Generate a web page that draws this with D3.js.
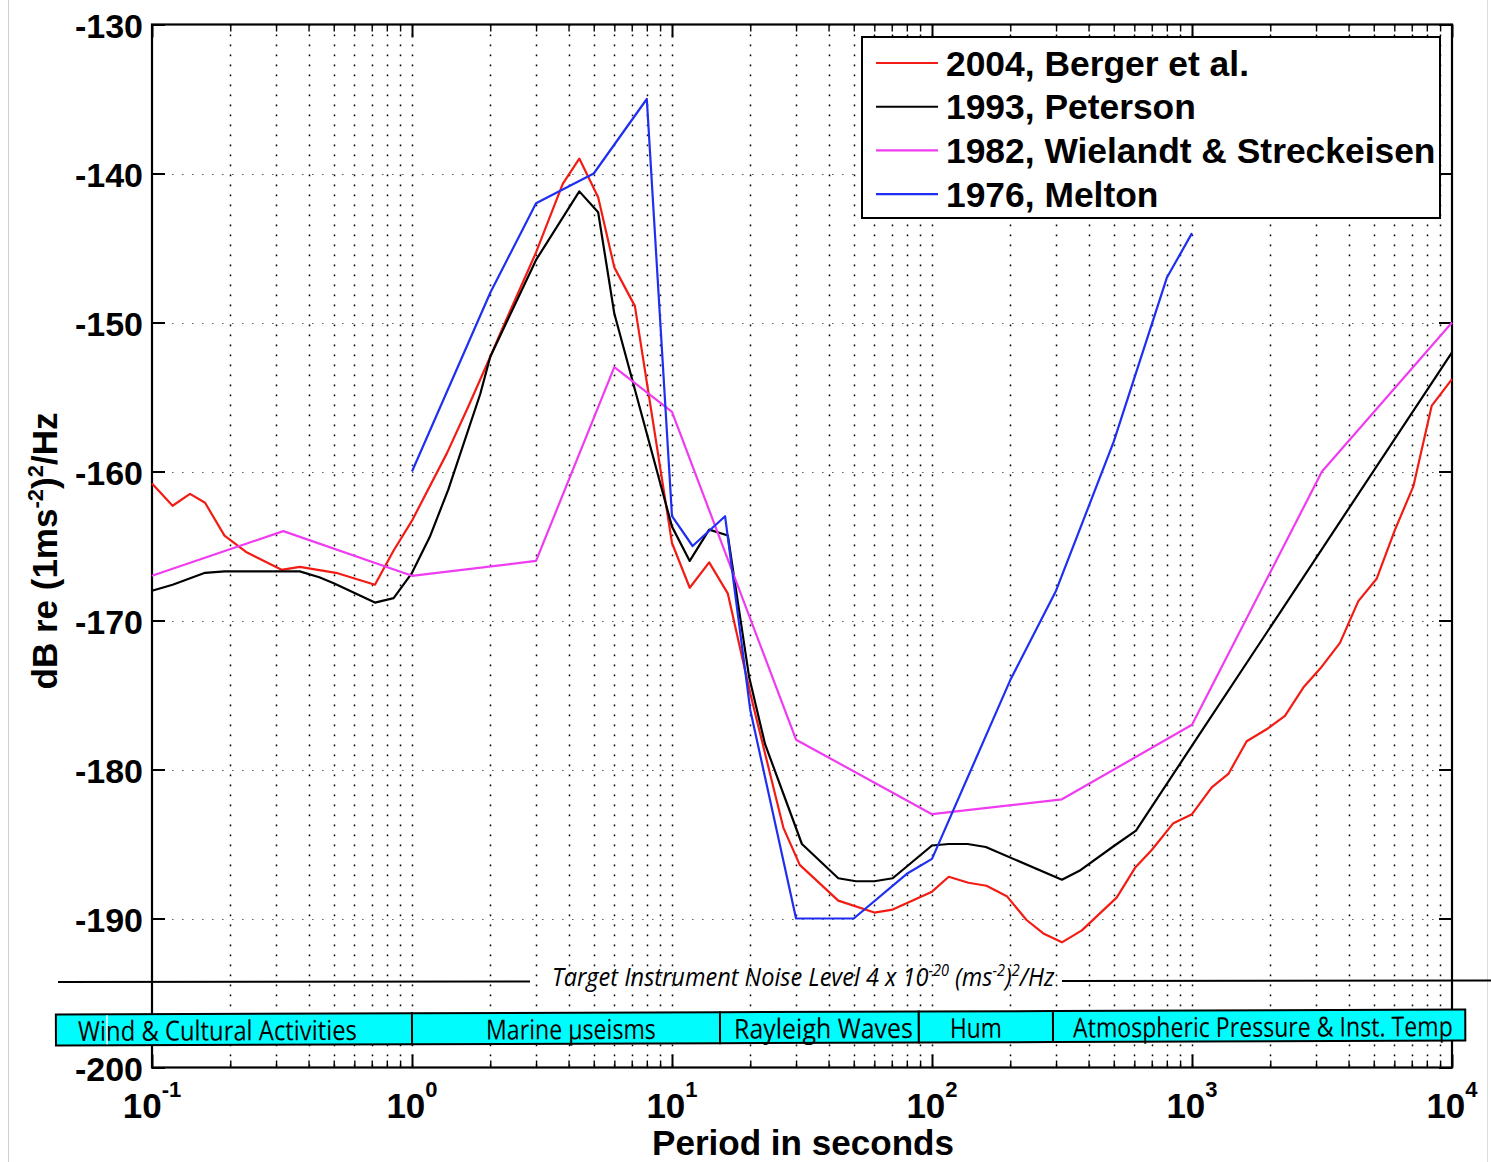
<!DOCTYPE html>
<html><head><meta charset="utf-8">
<script src="https://cdn.jsdelivr.net/npm/d3@7"></script>
<style>
html,body{margin:0;padding:0;background:#fff;}
svg{display:block;}
</style></head>
<body>
<svg id="chart" width="1491" height="1162"></svg>
<script>
// ---------------- data ----------------
const seriesNames = ["2004, Berger et al.", "1993, Peterson", "1982, Wielandt & Streckeisen", "1976, Melton"];

const bergerPeriod = [0.1,0.12,0.14,0.16,0.19,0.23,0.315,0.37,0.51,0.72,0.85,1.0,1.36,1.65,2.0,2.24,3.0,3.8,4.4,5.2,6.0,7.2,8.2,10,11.7,13.9,16.4,20,26.8,31,43.6,60,70.6,100,116,138,162,194,231,268,316,377,513,604,700,848,1000,1191,1380,1623,1936,2278,2680,3155,3708,4362,5130,6038,7100,8350,10000];
const bergerDb = [-160.8,-162.3,-161.5,-162.1,-164.3,-165.4,-166.6,-166.4,-166.8,-167.6,-165.3,-163.3,-158.8,-155.6,-152.3,-150.3,-145.3,-140.7,-139.0,-141.6,-146.3,-148.9,-155.2,-164.8,-167.8,-166.1,-168.2,-174.9,-183.9,-186.4,-188.8,-189.6,-189.4,-188.2,-187.2,-187.6,-187.8,-188.5,-190.1,-191.0,-191.6,-190.8,-188.6,-186.6,-185.4,-183.6,-183.0,-181.2,-180.3,-178.1,-177.3,-176.4,-174.5,-173.1,-171.5,-168.7,-167.2,-163.9,-161.0,-155.6,-153.8];

const petersonPeriod = [0.1,0.12,0.16,0.19,0.37,0.44,0.5,0.72,0.85,1.0,1.17,1.38,1.83,2.0,3.0,4.4,5.2,6.0,10,11.7,13.9,16.4,19.8,22.8,31.6,43.6,51,60,70.6,100,116,137,161,316,369,504,609,1000,10000];
const petersonDb = [-168.0,-167.6,-166.8,-166.7,-166.7,-167.1,-167.5,-168.8,-168.5,-166.8,-164.4,-161.2,-154.8,-152.3,-145.8,-141.2,-142.6,-149.4,-163.7,-166.0,-163.9,-164.3,-173.8,-178.3,-185.0,-187.3,-187.5,-187.5,-187.3,-185.1,-185.0,-185.0,-185.2,-187.4,-186.8,-185.1,-184.1,-178.4,-152.0];

const wielandtPeriod = [0.1,0.32,1,3,6,10,30,100,316,1000,3162,10000];
const wielandtDb = [-167,-164,-167,-166,-153,-156,-178,-183,-182,-177,-160,-150];

const meltonPeriod = [1,2,3,5,8,10,12,16,20,30,50,80,100,200,300,500,800,1000];
const meltonDb = [-160,-148,-142,-140,-135,-163,-165,-163,-176,-190,-190,-187,-186,-174,-168,-158,-147,-144];

const yTickValues = [-200,-190,-180,-170,-160,-150,-140,-130];
const yGridValues = [-190,-180,-170,-160,-150,-140];
const xDecades = [0.1,1,10,100,1000,10000];
const xDecadeExponents = ["-1","0","1","2","3","4"];

const bandNames = ["Wind & Cultural Activities","Marine \u00b5seisms","Rayleigh Waves","Hum","Atmospheric Pressure & Inst. Temp"];
const bandEdges = [0.0427, 1, 15.3, 89, 292, 11250];

const xTitle = "Period in seconds";
const targetLabelParts = [["Target Instrument Noise Level 4 x 10",false],["-20",true],[" (ms",false],["-2",true],[")",false],["2",true],["/Hz",false]];
const yTitleParts = [["dB re (1ms",false],["-2",true],[")",false],["2",true],["/Hz",false]];

// ---------------- layout ----------------
const W = 1491, H = 1162;
const L = 152, R = 1452, T = 24.5, B = 1067.5;
const colors = ["#f21c14", "#000000", "#f03cf0", "#1f2ff2"];
const boldFont = "'Liberation Sans', Arial, Helvetica, sans-serif";
const humanFont = "'Open Sans', 'Noto Sans', sans-serif";

const svg = d3.select("#chart");
const x = d3.scaleLog().domain([0.1, 1e4]).range([L, R]);
const y = d3.scaleLinear().domain([-200, -130]).range([B, T]);

// page borders
svg.append("line").attr("x1",8.5).attr("x2",8.5).attr("y1",0).attr("y2",H).attr("stroke","#cfcfcf").attr("stroke-width",1);
svg.append("line").attr("x1",1487.5).attr("x2",1487.5).attr("y1",0).attr("y2",H).attr("stroke","#dcdcdc").attr("stroke-width",1);

// minor values
const minorVals = [];
for (let e = -1; e < 4; e++) for (let k = 2; k <= 9; k++) minorVals.push(+(k * Math.pow(10, e)).toPrecision(6));

// grid
const grid = svg.append("g");
grid.selectAll("line.vg").data(minorVals.concat([1,10,100,1000])).join("line")
  .attr("class","vg")
  .attr("x1", d => Math.round(x(d)) + 0.5).attr("x2", d => Math.round(x(d)) + 0.5)
  .attr("y1", T).attr("y2", B)
  .attr("stroke", "#000").attr("stroke-width", 1.5).attr("stroke-dasharray", "1.8,8.2");
grid.selectAll("line.hg").data(yGridValues).join("line")
  .attr("class","hg")
  .attr("x1", L).attr("x2", R)
  .attr("y1", d => Math.round(y(d)) + 0.5).attr("y2", d => Math.round(y(d)) + 0.5)
  .attr("stroke", "#666").attr("stroke-width", 1.2).attr("stroke-dasharray", "1.6,8.4");

// axes ticks
function styleAxis(g, w) {
  g.select(".domain").remove();
  g.selectAll(".tick line").attr("stroke", "#000").attr("stroke-width", w);
}
svg.append("g").attr("transform", `translate(0,${B})`)
  .call(d3.axisBottom(x).tickValues(xDecades).tickSize(-13).tickSizeOuter(0).tickFormat(""))
  .call(g => styleAxis(g, 2));
svg.append("g").attr("transform", `translate(0,${B})`)
  .call(d3.axisBottom(x).tickValues(minorVals).tickSize(-7).tickSizeOuter(0).tickFormat(""))
  .call(g => styleAxis(g, 1.4));
svg.append("g").attr("transform", `translate(0,${T})`)
  .call(d3.axisTop(x).tickValues(xDecades).tickSize(-13).tickSizeOuter(0).tickFormat(""))
  .call(g => styleAxis(g, 2));
svg.append("g").attr("transform", `translate(0,${T})`)
  .call(d3.axisTop(x).tickValues(minorVals).tickSize(-7).tickSizeOuter(0).tickFormat(""))
  .call(g => styleAxis(g, 1.4));
const yAxisG = svg.append("g").attr("transform", `translate(${L},0)`)
  .call(d3.axisLeft(y).tickValues(yTickValues).tickSize(-13).tickSizeOuter(0).tickPadding(9).tickFormat(d => String(d)))
  .call(g => styleAxis(g, 2));
yAxisG.selectAll("text")
  .attr("font-family", boldFont).attr("font-weight", "bold").attr("font-size", 34)
  .attr("fill", "#000").attr("dy", "0.37em");
svg.append("g").attr("transform", `translate(${R},0)`)
  .call(d3.axisRight(y).tickValues(yTickValues).tickSize(-13).tickSizeOuter(0).tickFormat(""))
  .call(g => styleAxis(g, 2));

// frame
svg.append("rect").attr("x", L).attr("y", T).attr("width", R - L).attr("height", B - T)
  .attr("fill", "none").attr("stroke", "#000").attr("stroke-width", 2.2);

// x tick labels
svg.append("g").selectAll("text").data(xDecades).join("text")
  .attr("x", d => x(d)).attr("y", 1118).attr("text-anchor", "middle")
  .attr("font-family", boldFont).attr("font-weight", "bold").attr("font-size", 35)
  .each(function(d, i) {
    const t = d3.select(this);
    t.append("tspan").text("10");
    t.append("tspan").attr("dy", -21).attr("font-size", 22).text(xDecadeExponents[i]);
  });

// helper: text with superscripts
function richText(parent, parts, size, supSize, supShift) {
  const t = parent.append("text");
  let shifted = false;
  parts.forEach(([s, sup]) => {
    const ts = t.append("tspan").text(s);
    if (sup && !shifted) { ts.attr("dy", -supShift).attr("font-size", supSize); shifted = true; }
    else if (sup) { ts.attr("font-size", supSize); }
    else if (!sup && shifted) { ts.attr("dy", supShift); shifted = false; }
  });
  return t;
}
function fitWidth(t, target) {
  const w = t.node().getBBox().width;
  return w > 0 ? target / w : 1;
}

// axis titles
const xt = svg.append("text").attr("x", 0).attr("y", 0).attr("text-anchor", "middle")
  .attr("font-family", boldFont).attr("font-weight", "bold").attr("font-size", 35).text(xTitle);
xt.attr("transform", `translate(803,1155) scale(${fitWidth(xt, 302)},1)`);

const ytG = svg.append("g");
const yt = richText(ytG, yTitleParts, 35, 22, 14)
  .attr("text-anchor", "middle").attr("font-family", boldFont).attr("font-weight", "bold").attr("font-size", 35);
yt.attr("transform", `translate(57,551) rotate(-90) scale(${fitWidth(yt, 277)},1)`);

// series lines
const series = [
  {p: bergerPeriod, v: bergerDb},
  {p: petersonPeriod, v: petersonDb},
  {p: wielandtPeriod, v: wielandtDb},
  {p: meltonPeriod, v: meltonDb}
];
const line = d3.line().x(d => x(d[0])).y(d => y(d[1]));
series.forEach((s, i) => {
  svg.append("path").datum(d3.zip(s.p, s.v))
    .attr("d", line).attr("fill", "none").attr("stroke", colors[i])
    .attr("stroke-width", 2.2).attr("stroke-linejoin", "round");
});

// legend
const lg = svg.append("g");
lg.append("rect").attr("x", 862).attr("y", 37).attr("width", 578).attr("height", 181)
  .attr("fill", "#fff").attr("stroke", "#000").attr("stroke-width", 2);
seriesNames.forEach((n, i) => {
  const ly = 63 + i * 43.7;
  lg.append("line").attr("x1", 876).attr("x2", 938).attr("y1", ly).attr("y2", ly)
    .attr("stroke", colors[i]).attr("stroke-width", 2.1);
  lg.append("text").attr("x", 946).attr("y", ly + 12.5)
    .attr("font-family", boldFont).attr("font-weight", "bold").attr("font-size", 35.4).text(n);
});

// target instrument noise line
const tg = svg.append("g");
tg.append("line").attr("x1", 58).attr("x2", 530).attr("y1", 982).attr("y2", 981.6).attr("stroke", "#000").attr("stroke-width", 2);
tg.append("line").attr("x1", 1062).attr("x2", 1491).attr("y1", 981).attr("y2", 980.5).attr("stroke", "#000").attr("stroke-width", 2);
const tt = richText(tg, targetLabelParts, 26, 16, 10)
  .attr("font-family", humanFont).attr("font-style", "italic").attr("font-size", 26).attr("fill", "#000");
tt.attr("transform", `translate(552,986) scale(${fitWidth(tt, 503)},1)`);

// bands
const bandTextStart = [78, 486, 734, 950, 1073];
const bandTextWidth = [279, 170, 179, 52, 380];
const bg = svg.append("g").attr("transform", "rotate(-0.2,56,1030)");
bandNames.forEach((n, i) => {
  const x0 = x(bandEdges[i]), x1 = x(bandEdges[i + 1]);
  bg.append("rect").attr("x", x0).attr("y", 1014.5).attr("width", x1 - x0).attr("height", 31)
    .attr("fill", "#00fcfc").attr("stroke", "#000").attr("stroke-width", 2);
});
bg.append("line").attr("x1", 107).attr("x2", 107).attr("y1", 1015.5).attr("y2", 1044.5)
  .attr("stroke", "#fff").attr("stroke-width", 1.5);
bandNames.forEach((n, i) => {
  const t = bg.append("text").attr("x", 0).attr("y", 0)
    .attr("font-family", humanFont).attr("font-size", 27.5).attr("fill", "#000").text(n);
  t.attr("transform", `translate(${bandTextStart[i]},1041) scale(${fitWidth(t, bandTextWidth[i])},1)`);
});
</script>
</body></html>
